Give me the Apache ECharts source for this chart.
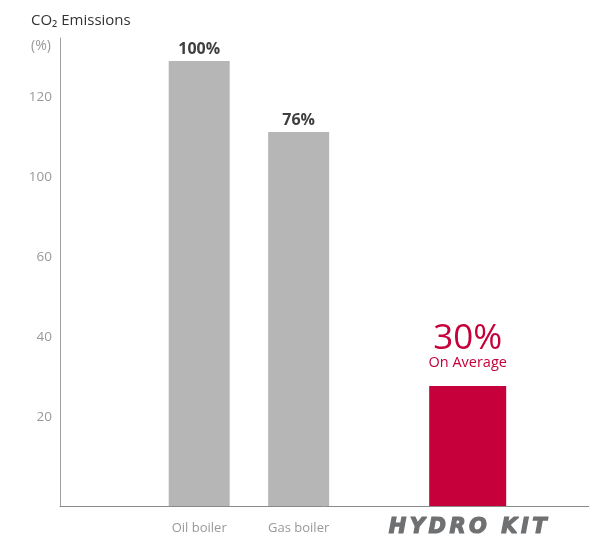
<!DOCTYPE html>
<html>
<head>
<meta charset="utf-8">
<script src="https://cdn.jsdelivr.net/npm/echarts@6/dist/echarts.min.js"></script>
<style>
html,body{margin:0;padding:0;background:#fff;}
#chart{width:589px;height:540px;}
</style>
</head>
<body>
<div id="chart"></div>
<script>
// 数据
var boilerNames = ['Oil boiler', 'Gas boiler'];
var boilerPos = [1, 2];
var boilerValues = [111.25, 93.5];
var boilerLabels = ['100%', '76%'];

var kitName = 'HYDRO KIT';
var kitPos = [3.7];
var kitValues = [30];
var kitLabel = '30%';
var kitSubLabel = 'On Average';

var yTickLabels = ['20', '40', '60', '100', '120'];
var yTickValues = [22.25, 42.25, 62.25, 82.25, 102.25];

var chart = echarts.init(document.getElementById('chart'));

function $each(arr, fn) {
    for (var i = 0; i < arr.length; i++) fn(i, arr[i]);
}
var boilerData = [];
$each(boilerPos, function (index, item) {
    boilerData.push([item, boilerValues[index]]);
});
var kitData = [];
$each(kitPos, function (index, item) {
    kitData.push([item, kitValues[index]]);
});

var xNames = boilerNames.concat([kitName]);
var xPos = boilerPos.concat(kitPos);

var font = '"Open Sans", "Noto Sans", sans-serif';

// logo style: spread letters a little
function spread(s) {
    return s.split('').join('\u2006');
}

var option = {
    animation: false,
    title: [
        {
            text: 'CO₂ Emissions',
            left: 26,
            top: 8,
            textStyle: {fontFamily: font, fontSize: 15, fontWeight: 'normal', color: '#333'}
        },
        {
            text: '(%)',
            left: 26,
            top: 34,
            textStyle: {fontFamily: font, fontSize: 14, fontWeight: 'normal', color: '#999'}
        }
    ],
    grid: {left: 60, right: 0, top: 38, bottom: 34},
    xAxis: [
        {
            type: 'value',
            min: -0.4,
            max: 4.92,
            splitLine: {show: false},
            axisTick: {show: false},
            axisLine: {show: true, onZero: false, lineStyle: {color: '#8a8a8a', width: 1}},
            axisLabel: {
                customValues: xPos,
                margin: 22,
                verticalAlign: 'middle',
                fontFamily: font,
                fontSize: 13,
                color: '#999',
                formatter: function (value) {
                    var i = xPos.indexOf(value);
                    if (xNames[i] === kitName) return '{kit|' + spread(kitName) + '}';
                    return xNames[i];
                },
                rich: {
                    kit: {
                        fontFamily: '"DejaVu Sans", sans-serif',
                        fontStyle: 'italic',
                        fontWeight: 'bold',
                        fontSize: 21,
                        color: '#6e7072',
                        textBorderColor: '#6e7072',
                        textBorderWidth: 1.2
                    }
                }
            }
        },
        {
            type: 'value',
            min: -0.4,
            max: 4.92,
            show: false
        }
    ],
    yAxis: {
        type: 'value',
        min: 0,
        max: 117,
        splitLine: {show: false},
        axisTick: {show: false},
        axisLine: {show: true, onZero: false, lineStyle: {color: '#a0a0a0', width: 1}},
        axisLabel: {
            customValues: yTickValues,
            margin: 8,
            fontFamily: font,
            fontSize: 13.5,
            color: '#999',
            formatter: function (value) {
                return yTickLabels[yTickValues.indexOf(value)];
            }
        }
    },
    series: [
        {
            name: 'boiler',
            type: 'bar',
            xAxisIndex: 0,
            barWidth: 61,
            itemStyle: {color: '#b5b6b5'},
            label: {
                show: true,
                position: 'top',
                distance: 4,
                fontFamily: font,
                fontSize: 16,
                fontWeight: 'bold',
                color: '#3f3f3f',
                formatter: function (p) {
                    return boilerLabels[p.dataIndex];
                }
            },
            data: boilerData
        },
        {
            name: 'kit',
            type: 'bar',
            xAxisIndex: 1,
            barWidth: 77,
            itemStyle: {color: '#c5003a'},
            label: {
                show: true,
                position: 'top',
                distance: 15,
                formatter: function () {
                    return '{big|' + kitLabel + '}\n{small|' + kitSubLabel + '}';
                },
                rich: {
                    big: {fontFamily: font, fontSize: 35, lineHeight: 30, color: '#c5003a'},
                    small: {fontFamily: font, fontSize: 14.5, lineHeight: 17, color: '#c5003a'}
                }
            },
            data: kitData
        }
    ]
};
chart.setOption(option);
</script>
</body>
</html>
